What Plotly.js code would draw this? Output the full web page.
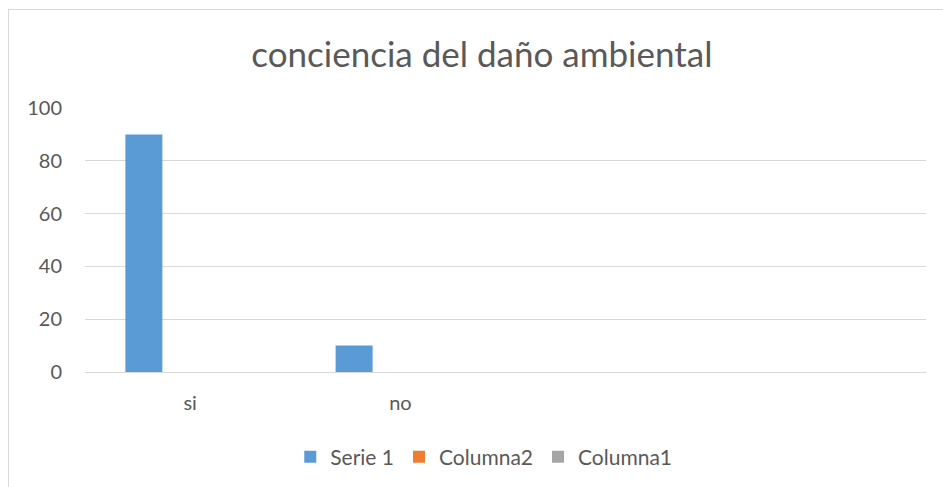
<!DOCTYPE html>
<html>
<head>
<meta charset="utf-8">
<script src="https://cdn.plot.ly/plotly-3.0.1.min.js"></script>
<style>
  body { margin: 0; background: #fff; }
  #chart { width: 943px; height: 487px; }
  #frame { position: absolute; left: 8px; top: 9px; right: 0; bottom: 0;
           border-top: 1px solid #d9d9d9; border-left: 1px solid #d9d9d9; pointer-events: none; }
</style>
</head>
<body>
<div id="chart"></div>
<div id="frame"></div>
<script>
// categories (the last two are empty rows in the source sheet)
const categories = ['si', 'no', ' ', '  ']
const serie1 = [90, 10, null, null]
const columna2 = [null, null, null, null]
const columna1 = [null, null, null, null]
const yTicks = [0, 20, 40, 60, 80, 100]

const font = 'Lato, "Open Sans", sans-serif'
const grey = '#595959'

function bars(name, values, color, offset) {
    return {
        type: 'bar',
        name: name,
        x: categories,
        y: values,
        width: 0.176,
        offset: offset,
        marker: { color: color },
        hoverinfo: 'y'
    }
}

const data = [
    bars('Serie 1', serie1, '#5b9bd5', -0.308),
    bars('Columna2', columna2, '#ed7d31', -0.132),
    bars('Columna1', columna1, '#a5a5a5', 0.044)
]

const layout = {
    width: 943,
    height: 487,
    margin: { l: 85, r: 17, t: 108, b: 115 },
    paper_bgcolor: '#fff',
    plot_bgcolor: '#fff',
    font: { family: font, color: grey, size: 20 },
    title: {
        text: 'conciencia del daño ambiental',
        font: { family: font, size: 35, color: grey },
        x: 0.511, xanchor: 'center',
        y: 0.887, yanchor: 'middle', yref: 'container'
    },
    xaxis: {
        type: 'category',
        range: [-0.5, 3.5],
        showgrid: false,
        showline: true,
        linecolor: '#d9d9d9',
        linewidth: 1.3,
        ticks: '',
        ticklabelstandoff: 13,
        tickfont: { family: font, size: 20, color: grey }
    },
    yaxis: {
        range: [0, 100],
        tickvals: yTicks,
        gridcolor: '#d9d9d9',
        gridwidth: 1.3,
        zeroline: false,
        showline: false,
        ticks: '',
        ticklabelstandoff: 22,
        tickfont: { family: font, size: 20, color: grey }
    },
    showlegend: true,
    legend: {
        orientation: 'h',
        xref: 'container',
        x: 0.513, xanchor: 'center',
        y: 30 / 487, yanchor: 'middle', yref: 'container',
        font: { family: font, size: 21, color: grey },
        itemwidth: 30,
        traceorder: 'normal'
    },
    bargap: 0.4
}

Plotly.newPlot('chart', data, layout, { staticPlot: true })
</script>
</body>
</html>
